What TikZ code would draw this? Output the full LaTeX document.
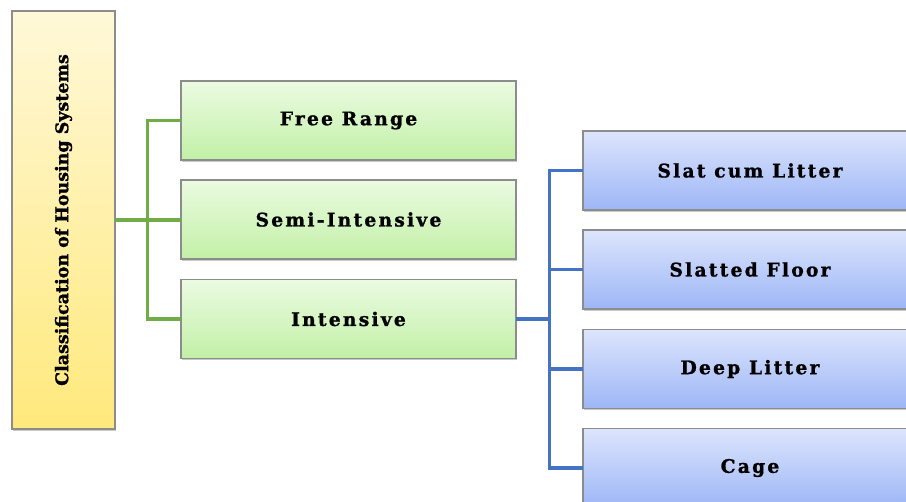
\documentclass[tikz,border=0pt]{standalone}
\usepackage{fontspec}
\setmainfont{DejaVu Serif}
\newfontfamily\boxfont{DejaVu Serif}[LetterSpace=12,FakeBold=1.2]
\newfontfamily\rootfont{DejaVu Serif}[FakeBold=1.2]
\usetikzlibrary{shadows}
\definecolor{edgegray}{HTML}{8C8C8C}
\definecolor{ylwtop}{HTML}{FFF8D8}
\definecolor{ylwbot}{HTML}{FFE97C}
\definecolor{grntop}{HTML}{EBFBE2}
\definecolor{grnbot}{HTML}{C2F0A6}
\definecolor{blutop}{HTML}{DDE5FD}
\definecolor{blubot}{HTML}{9DB6F6}
\definecolor{grnline}{HTML}{70AD47}
\definecolor{bluline}{HTML}{4472C4}
\tikzset{
  px/.style={x=0.75pt,y=-0.75pt},
  basebox/.style={draw=edgegray, line width=0.8pt, inner sep=0pt, outer sep=0pt,
    drop shadow={shadow xshift=0.8pt, shadow yshift=-1.2pt, opacity=0.35, fill=black!60},
    font=\boxfont\bfseries\fontsize{14}{16}\selectfont},
  rootbox/.style={basebox, top color=ylwtop, bottom color=ylwbot,
    minimum width=77.25pt, minimum height=313.5pt},
  grnbox/.style={basebox, top color=grntop, bottom color=grnbot,
    minimum width=251.25pt, minimum height=59.25pt},
  blubox/.style={basebox, top color=blutop, bottom color=blubot,
    minimum width=250.5pt, minimum height=59.25pt},
  gline/.style={draw=grnline, line width=2.4pt},
  bline/.style={draw=bluline, line width=2.4pt},
}
\begin{document}
\begin{tikzpicture}[px]
\useasboundingbox (0,0) rectangle (906,502);
\clip (0,0) rectangle (906,502);
\fill[white] (0,0) rectangle (906,502);
\node[rootbox] (root) at (63.5,220) {};
\node[rotate=90, font=\rootfont\bfseries\fontsize{13.1}{15}\selectfont] (roottxt) at (63.5,220) {Classification of Housing Systems};
\node[grnbox] (fr) at (348.5,120.5) {Free Range};
\node[grnbox] (si) at (348.5,219.5) {Semi-Intensive};
\node[grnbox] (in) at (348.5,319) {Intensive};
\node[blubox] (sl) at (750,170.5) {Slat cum Litter};
\node[blubox] (sf) at (750,269.5) {Slatted Floor};
\node[blubox] (dl) at (750,369) {Deep Litter};
\node[blubox] (cg) at (750,468) {Cage};
\coordinate (jg) at (147.5,220);
\coordinate (jb) at (549.5,319);
\draw[gline] (root.east |- jg) -- (si.west |- jg);
\draw[gline] (fr.west) -| (jg) |- (in.west);
\draw[bline] (in.east) -- (jb);
\draw[bline] (sl.west) -| (jb) |- (cg.west);
\draw[bline] (sf.west) -- (sf.west -| jb);
\draw[bline] (dl.west) -- (dl.west -| jb);
\end{tikzpicture}
\end{document}
